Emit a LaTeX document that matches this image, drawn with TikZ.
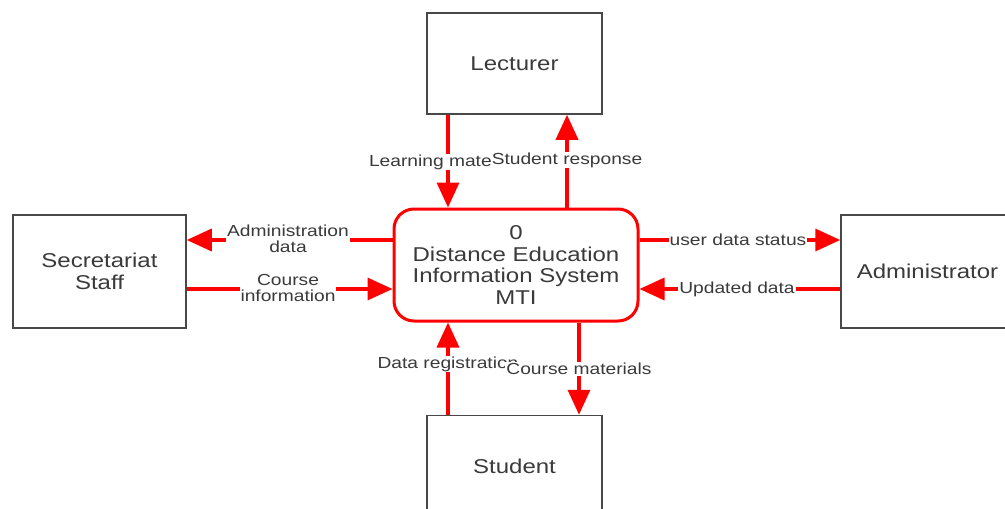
\documentclass[tikz,border=0pt]{standalone}
\usepackage{fontspec}
\setmainfont{Liberation Sans}[FakeStretch=1.2]
\usetikzlibrary{arrows.meta}
\definecolor{txt}{HTML}{3A3A3A}
\definecolor{boxc}{HTML}{484848}
\definecolor{flowred}{HTML}{FF0000}
\begin{document}
\begin{tikzpicture}[x=1pt,y=-1pt,
  entity/.style={draw=boxc,line width=1.5pt,fill=white,text=txt,align=center,
    font=\fontsize{20}{22}\selectfont,inner sep=0pt},
  proc/.style={draw=flowred,line width=3pt,rounded corners=20pt,fill=white,text=txt,
    align=center,font=\fontsize{20}{21.7}\selectfont,inner sep=0pt,
    minimum width=244pt,minimum height=112pt},
  flow/.style={draw=flowred,line width=3.5pt,-{Triangle[length=25pt,width=22pt]}},
  lbl/.style={fill=white,text=txt,align=center,inner sep=1pt,
    font=\fontsize{16}{16.5}\selectfont}]
\useasboundingbox (0,0) rectangle (1005,509);
\clip (0,0) rectangle (1005,509);
% entities
\node[entity,minimum width=175pt,minimum height=101pt] (lect) at (514.5,63.5) {Lecturer};
\node[entity,minimum width=175pt,minimum height=101pt] (stud) at (514.5,466) {Student};
\node[entity,minimum width=173pt,minimum height=113pt] (sec) at (99.5,271.5) {Secretariat\\Staff};
\node[entity,minimum width=173pt,minimum height=113pt] (adm) at (927.5,271.5) {Administrator};
% process
\node[proc] (p) at (516,265) {0\\Distance Education\\Information System\\MTI};
% coordinates for connector positions
\coordinate (xa) at (448,0);
\coordinate (xb) at (567,0);
\coordinate (xc) at (579,0);
\coordinate (ya) at (0,240);
\coordinate (yb) at (0,289);
% connectors
\draw[flow] (lect.south -| xa) -- (p.north -| xa);
\draw[flow] (p.north -| xb) -- (lect.south -| xb);
\draw[flow] (stud.north -| xa) -- (p.south -| xa);
\draw[flow] (p.south -| xc) -- (stud.north -| xc);
\draw[flow] (p.west |- ya) -- (sec.east |- ya);
\draw[flow] (sec.east |- yb) -- (p.west |- yb);
\draw[flow] (p.east |- ya) -- (adm.west |- ya);
\draw[flow] (adm.west |- yb) -- (p.east |- yb);
% labels
\node[lbl] (l1) at (448,162) {Learning materials};
\node[lbl] (l2) at (567,160) {Student response};
\node[lbl] (l3) at (448,364) {Data registration};
\node[lbl] (l4) at (579,369) {Course materials};
\node[lbl] (l5) at (288,239) {Administration\\data};
\node[lbl] (l6) at (288,288) {Course\\information};
\node[lbl] (l7) at (738,240) {user data status};
\node[lbl] (l8) at (737,289) {Updated data};
\end{tikzpicture}
\end{document}
